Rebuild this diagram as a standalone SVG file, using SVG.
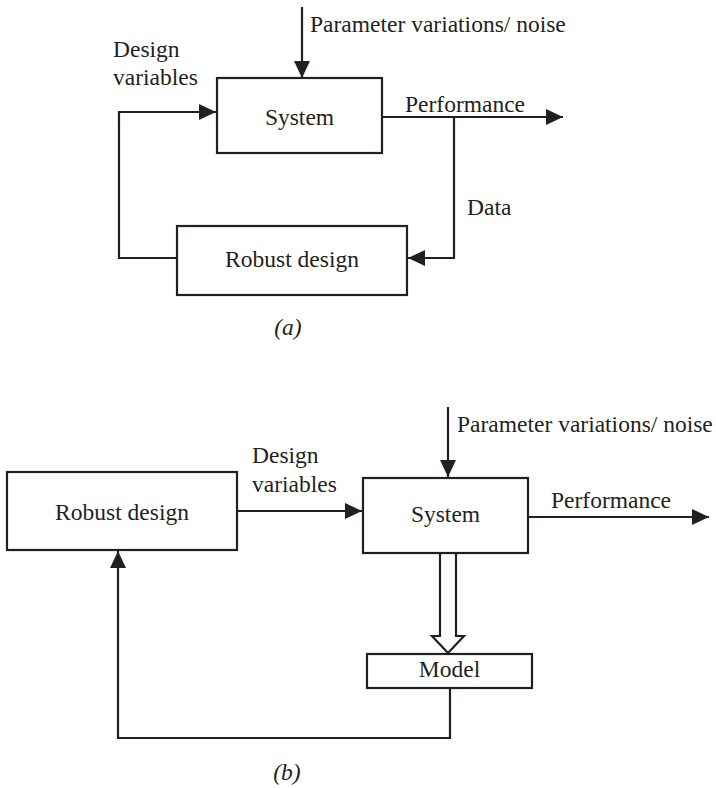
<svg xmlns="http://www.w3.org/2000/svg" width="716" height="788" viewBox="0 0 716 788">
<style>
text { font-family: "Liberation Serif", "Times New Roman", serif; font-size: 23.5px; fill: #231f20; }
.c { text-anchor: middle; }
.i { font-style: italic; }
.box { fill: #fff; stroke: #231f20; stroke-width: 2.2; }
.ln { fill: none; stroke: #231f20; stroke-width: 2.2; }
</style>
<defs>
<marker id="ah" markerUnits="userSpaceOnUse" markerWidth="18" markerHeight="17" refX="17" refY="8" orient="auto">
<path d="M0,0 L17,8 L0,16 Z" fill="#231f20"/>
</marker>
</defs>
<rect width="716" height="788" fill="#fff"/>
<g id="connectors">
<line class="ln" x1="302" y1="7" x2="302" y2="78" marker-end="url(#ah)"/>
<polyline class="ln" points="177,258 119,258 119,112 216,112" marker-end="url(#ah)"/>
<line class="ln" x1="382" y1="117" x2="563" y2="117" marker-end="url(#ah)"/>
<polyline class="ln" points="454,117 454,258 408,258" marker-end="url(#ah)"/>
<line class="ln" x1="448" y1="407" x2="448" y2="477" marker-end="url(#ah)"/>
<line class="ln" x1="237" y1="511" x2="362" y2="511" marker-end="url(#ah)"/>
<line class="ln" x1="528" y1="517" x2="709" y2="517" marker-end="url(#ah)"/>
<polygon class="box" points="440,553 440,636 432,636 448,653 464,636 456,636 456,553"/>
<polyline class="ln" points="450,688 450,738 118,738 118,551" marker-end="url(#ah)"/>
</g>
<g id="a-system">
<rect class="box" x="217" y="78" width="165" height="75"/>
<text class="c" x="299.5" y="125">System</text>
</g>
<g id="a-robust">
<rect class="box" x="177" y="226" width="230" height="69"/>
<text class="c" x="292" y="267">Robust design</text>
</g>
<g id="a-labels">
<text x="310" y="32">Parameter variations/ noise</text>
<text x="113" y="57">Design</text>
<text x="113" y="85">variables</text>
<text x="405" y="112">Performance</text>
<text x="467" y="215">Data</text>
<text class="c i" x="288" y="335">(a)</text>
</g>
<g id="b-robust">
<rect class="box" x="7" y="472" width="230" height="78"/>
<text class="c" x="122" y="520">Robust design</text>
</g>
<g id="b-system">
<rect class="box" x="363" y="478" width="165" height="75"/>
<text class="c" x="445.5" y="522">System</text>
</g>
<g id="b-model">
<rect class="box" x="367" y="654" width="165" height="34"/>
<text class="c" x="449.5" y="677">Model</text>
</g>
<g id="b-labels">
<text x="457" y="432">Parameter variations/ noise</text>
<text x="252" y="463">Design</text>
<text x="252" y="492">variables</text>
<text x="551" y="508">Performance</text>
<text class="c i" x="287" y="780">(b)</text>
</g>
</svg>
